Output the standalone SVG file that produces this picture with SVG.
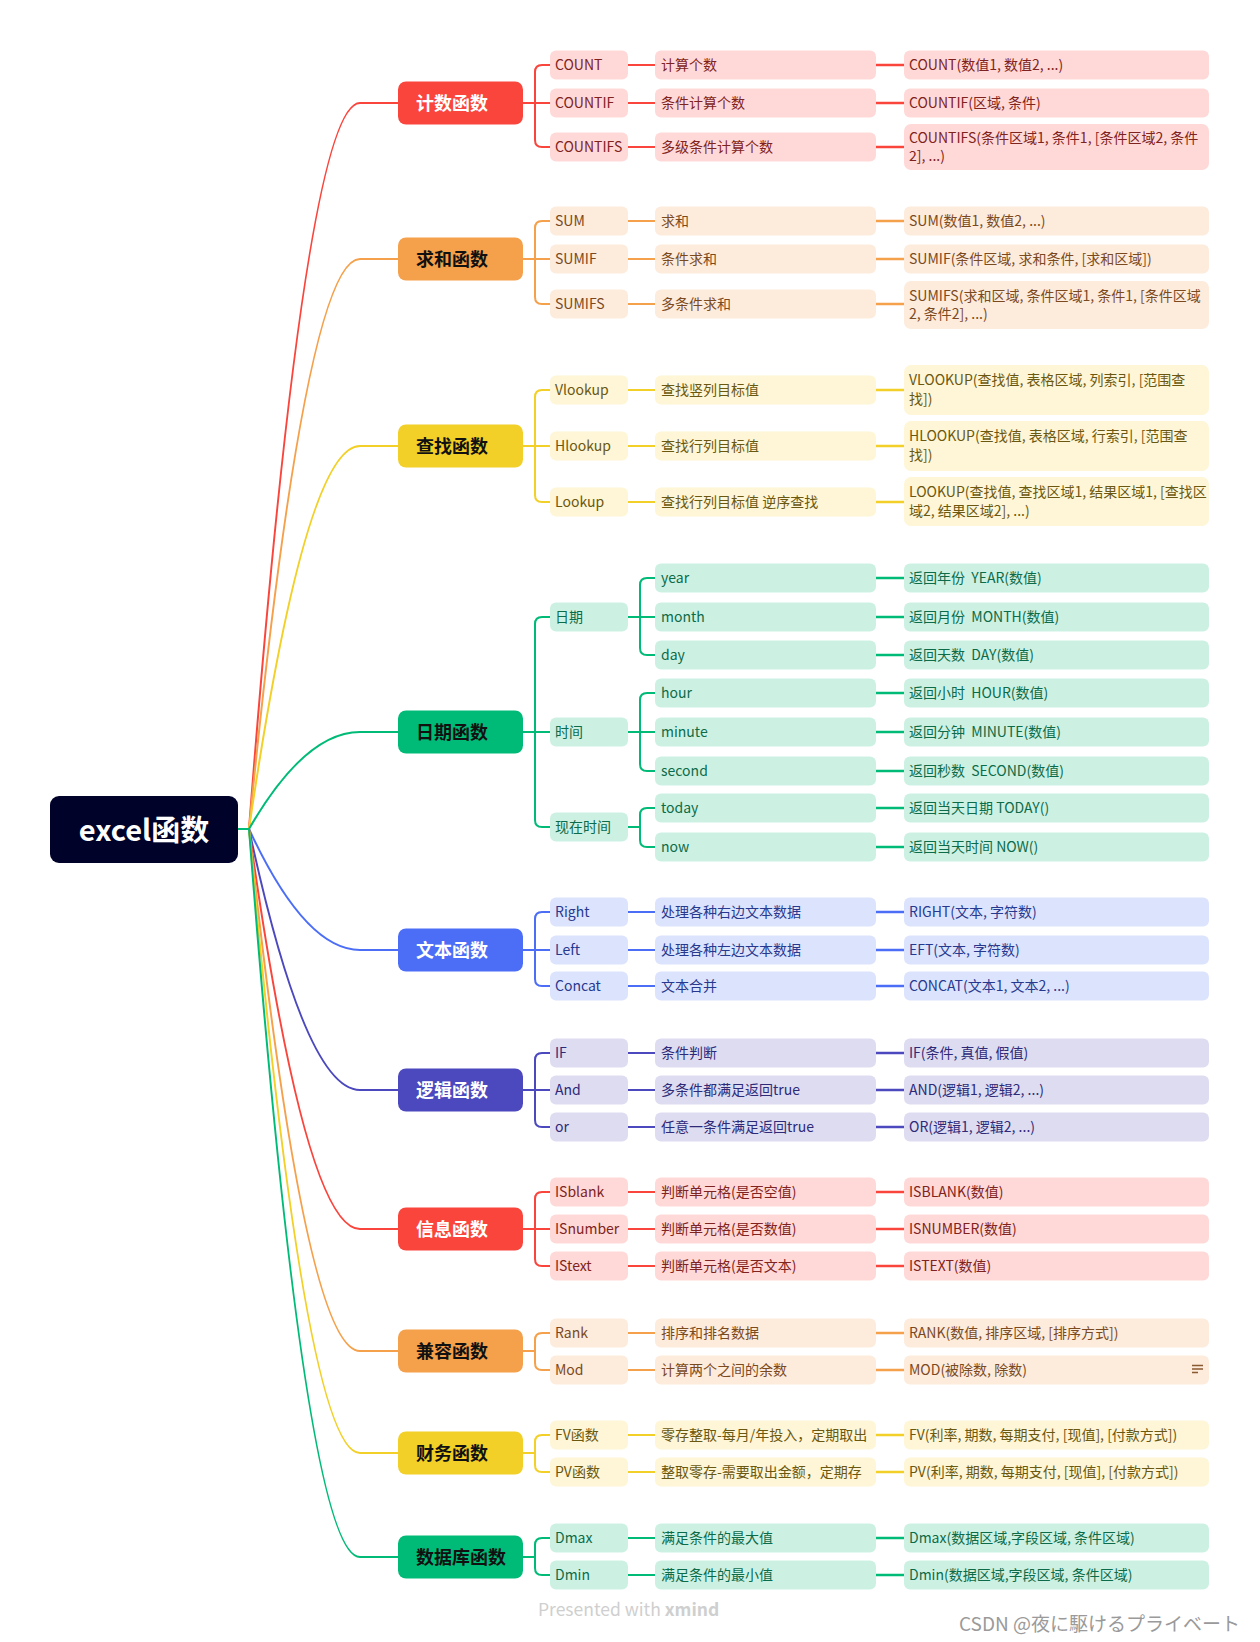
<svg xmlns="http://www.w3.org/2000/svg" width="1260" height="1642" viewBox="0 0 1260 1642">
<style>
text{font-family:"Noto Sans CJK SC","Noto Sans",sans-serif}
.t{font-size:14px}
.bt{font-size:18px;font-weight:700}
.conn path{fill:none;stroke-width:2}
.conn .lk{stroke-width:2.6}
.sr{stroke:#F9453C}.so{stroke:#F5A04B}.sy{stroke:#F2D027}.sg{stroke:#00BB77}.sb{stroke:#4C6EF6}.sp{stroke:#4C48BE}
.mr{fill:#F9453C}.mo{fill:#F5A04B}.my{fill:#F2D027}.mg{fill:#00BB77}.mb{fill:#4C6EF6}.mp{fill:#4C48BE}
.lr{fill:#FFD9D8}.lo{fill:#FDEBDC}.ly{fill:#FEF6D6}.lg{fill:#CCF1E3}.lb{fill:#DCE3FD}.lp{fill:#DDDCF1}
.tr{fill:#7E2320}.to{fill:#7A4A1E}.ty{fill:#6B5810}.tg{fill:#0C6B48}.tb{fill:#27398F}.tp{fill:#2E2A78}
.w{fill:#FFFFFF}.k{fill:#111111}
</style>

<g id="connectors" class="conn">
  <path class="sr" d="M249 829 Q305 103 360 103 H398"/>
  <path class="so" d="M249 829 Q305 259 360 259 H398"/>
  <path class="sy" d="M249 829 Q305 446 360 446 H398"/>
  <path class="sg" d="M249 829 Q305 732 360 732 H398"/>
  <path class="sb" d="M249 829 Q305 950 360 950 H398"/>
  <path class="sp" d="M249 829 Q305 1090 360 1090 H398"/>
  <path class="sr" d="M249 829 Q305 1229 360 1229 H398"/>
  <path class="so" d="M249 829 Q305 1351 360 1351 H398"/>
  <path class="sy" d="M249 829 Q305 1453 360 1453 H398"/>
  <path class="sg" d="M249 829 Q305 1557 360 1557 H398"/>
  <path class="sg" d="M237 829 H250"/>

  <path class="sr" d="M523 103 H535 V72 Q535 65 542 65 H550"/>
  <path class="sr" d="M523 103 H550"/>
  <path class="sr" d="M523 103 H535 V140 Q535 147 542 147 H550"/>
  <path class="sr" d="M628 65 H655 M628 103 H655 M628 147 H655"/>
  <path class="sr lk" d="M876 65 H904 M876 103 H904 M876 147 H904"/>

  <path class="so" d="M523 259 H535 V228 Q535 221 542 221 H550"/>
  <path class="so" d="M523 259 H550"/>
  <path class="so" d="M523 259 H535 V297 Q535 304 542 304 H550"/>
  <path class="so" d="M628 221 H655 M628 259 H655 M628 304 H655"/>
  <path class="so lk" d="M876 221 H904 M876 259 H904 M876 304 H904"/>

  <path class="sy" d="M523 446 H535 V397 Q535 390 542 390 H550"/>
  <path class="sy" d="M523 446 H550"/>
  <path class="sy" d="M523 446 H535 V495 Q535 502 542 502 H550"/>
  <path class="sy" d="M628 390 H655 M628 446 H655 M628 502 H655"/>
  <path class="sy lk" d="M876 390 H904 M876 446 H904 M876 502 H904"/>

  <path class="sg" d="M523 732 H535 V624 Q535 617 542 617 H550"/>
  <path class="sg" d="M523 732 H550"/>
  <path class="sg" d="M523 732 H535 V820 Q535 827 542 827 H550"/>
  <path class="sg" d="M628 617 H640 V585 Q640 578 647 578 H655"/>
  <path class="sg" d="M628 617 H655"/>
  <path class="sg" d="M628 617 H640 V648 Q640 655 647 655 H655"/>
  <path class="sg" d="M628 732 H640 V700 Q640 693 647 693 H655"/>
  <path class="sg" d="M628 732 H655"/>
  <path class="sg" d="M628 732 H640 V764 Q640 771 647 771 H655"/>
  <path class="sg" d="M628 827 H640 V815 Q640 808 647 808 H655"/>
  <path class="sg" d="M628 827 H640 V840 Q640 847 647 847 H655"/>
  <path class="sg lk" d="M876 578 H904 M876 617 H904 M876 655 H904 M876 693 H904 M876 732 H904 M876 771 H904 M876 808 H904 M876 847 H904"/>

  <path class="sb" d="M523 950 H535 V919 Q535 912 542 912 H550"/>
  <path class="sb" d="M523 950 H550"/>
  <path class="sb" d="M523 950 H535 V979 Q535 986 542 986 H550"/>
  <path class="sb" d="M628 912 H655 M628 950 H655 M628 986 H655"/>
  <path class="sb lk" d="M876 912 H904 M876 950 H904 M876 986 H904"/>

  <path class="sp" d="M523 1090 H535 V1060 Q535 1053 542 1053 H550"/>
  <path class="sp" d="M523 1090 H550"/>
  <path class="sp" d="M523 1090 H535 V1120 Q535 1127 542 1127 H550"/>
  <path class="sp" d="M628 1053 H655 M628 1090 H655 M628 1127 H655"/>
  <path class="sp lk" d="M876 1053 H904 M876 1090 H904 M876 1127 H904"/>

  <path class="sr" d="M523 1229 H535 V1199 Q535 1192 542 1192 H550"/>
  <path class="sr" d="M523 1229 H550"/>
  <path class="sr" d="M523 1229 H535 V1259 Q535 1266 542 1266 H550"/>
  <path class="sr" d="M628 1192 H655 M628 1229 H655 M628 1266 H655"/>
  <path class="sr lk" d="M876 1192 H904 M876 1229 H904 M876 1266 H904"/>

  <path class="so" d="M523 1351 H535 V1340 Q535 1333 542 1333 H550"/>
  <path class="so" d="M523 1351 H535 V1363 Q535 1370 542 1370 H550"/>
  <path class="so" d="M628 1333 H655 M628 1370 H655"/>
  <path class="so lk" d="M876 1333 H904 M876 1370 H904"/>

  <path class="sy" d="M523 1453 H535 V1442 Q535 1435 542 1435 H550"/>
  <path class="sy" d="M523 1453 H535 V1465 Q535 1472 542 1472 H550"/>
  <path class="sy" d="M628 1435 H655 M628 1472 H655"/>
  <path class="sy lk" d="M876 1435 H904 M876 1472 H904"/>

  <path class="sg" d="M523 1557 H535 V1545 Q535 1538 542 1538 H550"/>
  <path class="sg" d="M523 1557 H535 V1568 Q535 1575 542 1575 H550"/>
  <path class="sg" d="M628 1538 H655 M628 1575 H655"/>
  <path class="sg lk" d="M876 1538 H904 M876 1575 H904"/>
</g>

<g id="root">
  <rect x="50" y="796" width="188" height="67" rx="9" fill="#000229"/>
  <text x="144" y="841" text-anchor="middle" font-size="29" font-weight="700" fill="#FFFFFF">excel函数</text>
</g>

<g id="b1"><rect class="mr" x="398" y="81.5" width="125" height="43" rx="8"/><text class="bt w" x="416" y="109.5">计数函数</text></g>
<g id="b1-1">
  <rect class="lr" x="550" y="50.5" width="78" height="29" rx="6"/><text class="t tr" x="555" y="70">COUNT</text>
  <rect class="lr" x="655" y="50.5" width="221" height="29" rx="6"/><text class="t tr" x="661" y="70">计算个数</text>
  <rect class="lr" x="904" y="50.5" width="305" height="29" rx="6"/><text class="t tr" x="909" y="70">COUNT(数值1, 数值2, ...)</text>
</g>
<g id="b1-2">
  <rect class="lr" x="550" y="88.5" width="78" height="29" rx="6"/><text class="t tr" x="555" y="108">COUNTIF</text>
  <rect class="lr" x="655" y="88.5" width="221" height="29" rx="6"/><text class="t tr" x="661" y="108">条件计算个数</text>
  <rect class="lr" x="904" y="88.5" width="305" height="29" rx="6"/><text class="t tr" x="909" y="108">COUNTIF(区域, 条件)</text>
</g>
<g id="b1-3">
  <rect class="lr" x="550" y="132.5" width="78" height="29" rx="6"/><text class="t tr" x="555" y="152">COUNTIFS</text>
  <rect class="lr" x="655" y="132.5" width="221" height="29" rx="6"/><text class="t tr" x="661" y="152">多级条件计算个数</text>
  <rect class="lr" x="904" y="124" width="305" height="46" rx="7"/><text class="t tr" x="909" y="143">COUNTIFS(条件区域1, 条件1, [条件区域2, 条件</text><text class="t tr" x="909" y="161">2], ...)</text>
</g>

<g id="b2"><rect class="mo" x="398" y="237.5" width="125" height="43" rx="8"/><text class="bt k" x="416" y="265.5">求和函数</text></g>
<g id="b2-1">
  <rect class="lo" x="550" y="206.5" width="78" height="29" rx="6"/><text class="t to" x="555" y="226">SUM</text>
  <rect class="lo" x="655" y="206.5" width="221" height="29" rx="6"/><text class="t to" x="661" y="226">求和</text>
  <rect class="lo" x="904" y="206.5" width="305" height="29" rx="6"/><text class="t to" x="909" y="226">SUM(数值1, 数值2, ...)</text>
</g>
<g id="b2-2">
  <rect class="lo" x="550" y="244.5" width="78" height="29" rx="6"/><text class="t to" x="555" y="264">SUMIF</text>
  <rect class="lo" x="655" y="244.5" width="221" height="29" rx="6"/><text class="t to" x="661" y="264">条件求和</text>
  <rect class="lo" x="904" y="244.5" width="305" height="29" rx="6"/><text class="t to" x="909" y="264">SUMIF(条件区域, 求和条件, [求和区域])</text>
</g>
<g id="b2-3">
  <rect class="lo" x="550" y="289.5" width="78" height="29" rx="6"/><text class="t to" x="555" y="309">SUMIFS</text>
  <rect class="lo" x="655" y="289.5" width="221" height="29" rx="6"/><text class="t to" x="661" y="309">多条件求和</text>
  <rect class="lo" x="904" y="281" width="305" height="48" rx="7"/><text class="t to" x="909" y="301">SUMIFS(求和区域, 条件区域1, 条件1, [条件区域</text><text class="t to" x="909" y="319">2, 条件2], ...)</text>
</g>

<g id="b3"><rect class="my" x="398" y="424.5" width="125" height="43" rx="8"/><text class="bt k" x="416" y="452.5">查找函数</text></g>
<g id="b3-1">
  <rect class="ly" x="550" y="375.5" width="78" height="29" rx="6"/><text class="t ty" x="555" y="395">Vlookup</text>
  <rect class="ly" x="655" y="375.5" width="221" height="29" rx="6"/><text class="t ty" x="661" y="395">查找竖列目标值</text>
  <rect class="ly" x="904" y="365" width="305" height="50" rx="7"/><text class="t ty" x="909" y="385">VLOOKUP(查找值, 表格区域, 列索引, [范围查</text><text class="t ty" x="909" y="404">找])</text>
</g>
<g id="b3-2">
  <rect class="ly" x="550" y="431.5" width="78" height="29" rx="6"/><text class="t ty" x="555" y="451">Hlookup</text>
  <rect class="ly" x="655" y="431.5" width="221" height="29" rx="6"/><text class="t ty" x="661" y="451">查找行列目标值</text>
  <rect class="ly" x="904" y="421" width="305" height="50" rx="7"/><text class="t ty" x="909" y="441">HLOOKUP(查找值, 表格区域, 行索引, [范围查</text><text class="t ty" x="909" y="460">找])</text>
</g>
<g id="b3-3">
  <rect class="ly" x="550" y="487.5" width="78" height="29" rx="6"/><text class="t ty" x="555" y="507">Lookup</text>
  <rect class="ly" x="655" y="487.5" width="221" height="29" rx="6"/><text class="t ty" x="661" y="507">查找行列目标值 逆序查找</text>
  <rect class="ly" x="904" y="477" width="305" height="49" rx="7"/><text class="t ty" x="909" y="497">LOOKUP(查找值, 查找区域1, 结果区域1, [查找区</text><text class="t ty" x="909" y="516">域2, 结果区域2], ...)</text>
</g>

<g id="b4"><rect class="mg" x="398" y="710.5" width="125" height="43" rx="8"/><text class="bt k" x="416" y="738.5">日期函数</text></g>
<g id="b4-1">
  <rect class="lg" x="550" y="602.5" width="78" height="29" rx="6"/><text class="t tg" x="555" y="622">日期</text>
  <rect class="lg" x="655" y="563.5" width="221" height="29" rx="6"/><text class="t tg" x="661" y="583">year</text>
  <rect class="lg" x="904" y="563.5" width="305" height="29" rx="6"/><text class="t tg" x="909" y="583" xml:space="preserve">返回年份  YEAR(数值)</text>
  <rect class="lg" x="655" y="602.5" width="221" height="29" rx="6"/><text class="t tg" x="661" y="622">month</text>
  <rect class="lg" x="904" y="602.5" width="305" height="29" rx="6"/><text class="t tg" x="909" y="622" xml:space="preserve">返回月份  MONTH(数值)</text>
  <rect class="lg" x="655" y="640.5" width="221" height="29" rx="6"/><text class="t tg" x="661" y="660">day</text>
  <rect class="lg" x="904" y="640.5" width="305" height="29" rx="6"/><text class="t tg" x="909" y="660" xml:space="preserve">返回天数  DAY(数值)</text>
</g>
<g id="b4-2">
  <rect class="lg" x="550" y="717.5" width="78" height="29" rx="6"/><text class="t tg" x="555" y="737">时间</text>
  <rect class="lg" x="655" y="678.5" width="221" height="29" rx="6"/><text class="t tg" x="661" y="698">hour</text>
  <rect class="lg" x="904" y="678.5" width="305" height="29" rx="6"/><text class="t tg" x="909" y="698" xml:space="preserve">返回小时  HOUR(数值)</text>
  <rect class="lg" x="655" y="717.5" width="221" height="29" rx="6"/><text class="t tg" x="661" y="737">minute</text>
  <rect class="lg" x="904" y="717.5" width="305" height="29" rx="6"/><text class="t tg" x="909" y="737" xml:space="preserve">返回分钟  MINUTE(数值)</text>
  <rect class="lg" x="655" y="756.5" width="221" height="29" rx="6"/><text class="t tg" x="661" y="776">second</text>
  <rect class="lg" x="904" y="756.5" width="305" height="29" rx="6"/><text class="t tg" x="909" y="776" xml:space="preserve">返回秒数  SECOND(数值)</text>
</g>
<g id="b4-3">
  <rect class="lg" x="550" y="812.5" width="78" height="29" rx="6"/><text class="t tg" x="555" y="832">现在时间</text>
  <rect class="lg" x="655" y="793.5" width="221" height="29" rx="6"/><text class="t tg" x="661" y="813">today</text>
  <rect class="lg" x="904" y="793.5" width="305" height="29" rx="6"/><text class="t tg" x="909" y="813">返回当天日期 TODAY()</text>
  <rect class="lg" x="655" y="832.5" width="221" height="29" rx="6"/><text class="t tg" x="661" y="852">now</text>
  <rect class="lg" x="904" y="832.5" width="305" height="29" rx="6"/><text class="t tg" x="909" y="852">返回当天时间 NOW()</text>
</g>

<g id="b5"><rect class="mb" x="398" y="928.5" width="125" height="43" rx="8"/><text class="bt w" x="416" y="956.5">文本函数</text></g>
<g id="b5-1">
  <rect class="lb" x="550" y="897.5" width="78" height="29" rx="6"/><text class="t tb" x="555" y="917">Right</text>
  <rect class="lb" x="655" y="897.5" width="221" height="29" rx="6"/><text class="t tb" x="661" y="917">处理各种右边文本数据</text>
  <rect class="lb" x="904" y="897.5" width="305" height="29" rx="6"/><text class="t tb" x="909" y="917">RIGHT(文本, 字符数)</text>
</g>
<g id="b5-2">
  <rect class="lb" x="550" y="935.5" width="78" height="29" rx="6"/><text class="t tb" x="555" y="955">Left</text>
  <rect class="lb" x="655" y="935.5" width="221" height="29" rx="6"/><text class="t tb" x="661" y="955">处理各种左边文本数据</text>
  <rect class="lb" x="904" y="935.5" width="305" height="29" rx="6"/><text class="t tb" x="909" y="955">EFT(文本, 字符数)</text>
</g>
<g id="b5-3">
  <rect class="lb" x="550" y="971.5" width="78" height="29" rx="6"/><text class="t tb" x="555" y="991">Concat</text>
  <rect class="lb" x="655" y="971.5" width="221" height="29" rx="6"/><text class="t tb" x="661" y="991">文本合并</text>
  <rect class="lb" x="904" y="971.5" width="305" height="29" rx="6"/><text class="t tb" x="909" y="991">CONCAT(文本1, 文本2, ...)</text>
</g>

<g id="b6"><rect class="mp" x="398" y="1068.5" width="125" height="43" rx="8"/><text class="bt w" x="416" y="1096.5">逻辑函数</text></g>
<g id="b6-1">
  <rect class="lp" x="550" y="1038.5" width="78" height="29" rx="6"/><text class="t tp" x="555" y="1058">IF</text>
  <rect class="lp" x="655" y="1038.5" width="221" height="29" rx="6"/><text class="t tp" x="661" y="1058">条件判断</text>
  <rect class="lp" x="904" y="1038.5" width="305" height="29" rx="6"/><text class="t tp" x="909" y="1058">IF(条件, 真值, 假值)</text>
</g>
<g id="b6-2">
  <rect class="lp" x="550" y="1075.5" width="78" height="29" rx="6"/><text class="t tp" x="555" y="1095">And</text>
  <rect class="lp" x="655" y="1075.5" width="221" height="29" rx="6"/><text class="t tp" x="661" y="1095">多条件都满足返回true</text>
  <rect class="lp" x="904" y="1075.5" width="305" height="29" rx="6"/><text class="t tp" x="909" y="1095">AND(逻辑1, 逻辑2, ...)</text>
</g>
<g id="b6-3">
  <rect class="lp" x="550" y="1112.5" width="78" height="29" rx="6"/><text class="t tp" x="555" y="1132">or</text>
  <rect class="lp" x="655" y="1112.5" width="221" height="29" rx="6"/><text class="t tp" x="661" y="1132">任意一条件满足返回true</text>
  <rect class="lp" x="904" y="1112.5" width="305" height="29" rx="6"/><text class="t tp" x="909" y="1132">OR(逻辑1, 逻辑2, ...)</text>
</g>

<g id="b7"><rect class="mr" x="398" y="1207.5" width="125" height="43" rx="8"/><text class="bt w" x="416" y="1235.5">信息函数</text></g>
<g id="b7-1">
  <rect class="lr" x="550" y="1177.5" width="78" height="29" rx="6"/><text class="t tr" x="555" y="1197">ISblank</text>
  <rect class="lr" x="655" y="1177.5" width="221" height="29" rx="6"/><text class="t tr" x="661" y="1197">判断单元格(是否空值)</text>
  <rect class="lr" x="904" y="1177.5" width="305" height="29" rx="6"/><text class="t tr" x="909" y="1197">ISBLANK(数值)</text>
</g>
<g id="b7-2">
  <rect class="lr" x="550" y="1214.5" width="78" height="29" rx="6"/><text class="t tr" x="555" y="1234">ISnumber</text>
  <rect class="lr" x="655" y="1214.5" width="221" height="29" rx="6"/><text class="t tr" x="661" y="1234">判断单元格(是否数值)</text>
  <rect class="lr" x="904" y="1214.5" width="305" height="29" rx="6"/><text class="t tr" x="909" y="1234">ISNUMBER(数值)</text>
</g>
<g id="b7-3">
  <rect class="lr" x="550" y="1251.5" width="78" height="29" rx="6"/><text class="t tr" x="555" y="1271">IStext</text>
  <rect class="lr" x="655" y="1251.5" width="221" height="29" rx="6"/><text class="t tr" x="661" y="1271">判断单元格(是否文本)</text>
  <rect class="lr" x="904" y="1251.5" width="305" height="29" rx="6"/><text class="t tr" x="909" y="1271">ISTEXT(数值)</text>
</g>

<g id="b8"><rect class="mo" x="398" y="1329.5" width="125" height="43" rx="8"/><text class="bt k" x="416" y="1357.5">兼容函数</text></g>
<g id="b8-1">
  <rect class="lo" x="550" y="1318.5" width="78" height="29" rx="6"/><text class="t to" x="555" y="1338">Rank</text>
  <rect class="lo" x="655" y="1318.5" width="221" height="29" rx="6"/><text class="t to" x="661" y="1338">排序和排名数据</text>
  <rect class="lo" x="904" y="1318.5" width="305" height="29" rx="6"/><text class="t to" x="909" y="1338">RANK(数值, 排序区域, [排序方式])</text>
</g>
<g id="b8-2">
  <rect class="lo" x="550" y="1355.5" width="78" height="29" rx="6"/><text class="t to" x="555" y="1375">Mod</text>
  <rect class="lo" x="655" y="1355.5" width="221" height="29" rx="6"/><text class="t to" x="661" y="1375">计算两个之间的余数</text>
  <rect class="lo" x="904" y="1355.5" width="305" height="29" rx="6"/><text class="t to" x="909" y="1375">MOD(被除数, 除数)</text>
  <path d="M1192 1365.5 H1203 M1192 1369 H1203 M1192 1372.5 H1198" stroke="#8A5A30" stroke-width="1.3" fill="none"/>
</g>

<g id="b9"><rect class="my" x="398" y="1431.5" width="125" height="43" rx="8"/><text class="bt k" x="416" y="1459.5">财务函数</text></g>
<g id="b9-1">
  <rect class="ly" x="550" y="1420.5" width="78" height="29" rx="6"/><text class="t ty" x="555" y="1440">FV函数</text>
  <rect class="ly" x="655" y="1420.5" width="221" height="29" rx="6"/><text class="t ty" x="661" y="1440">零存整取-每月/年投入，定期取出</text>
  <rect class="ly" x="904" y="1420.5" width="305" height="29" rx="6"/><text class="t ty" x="909" y="1440">FV(利率, 期数, 每期支付, [现值], [付款方式])</text>
</g>
<g id="b9-2">
  <rect class="ly" x="550" y="1457.5" width="78" height="29" rx="6"/><text class="t ty" x="555" y="1477">PV函数</text>
  <rect class="ly" x="655" y="1457.5" width="221" height="29" rx="6"/><text class="t ty" x="661" y="1477">整取零存-需要取出金额，定期存</text>
  <rect class="ly" x="904" y="1457.5" width="305" height="29" rx="6"/><text class="t ty" x="909" y="1477">PV(利率, 期数, 每期支付, [现值], [付款方式])</text>
</g>

<g id="b10"><rect class="mg" x="398" y="1535.5" width="125" height="43" rx="8"/><text class="bt k" x="416" y="1563.5">数据库函数</text></g>
<g id="b10-1">
  <rect class="lg" x="550" y="1523.5" width="78" height="29" rx="6"/><text class="t tg" x="555" y="1543">Dmax</text>
  <rect class="lg" x="655" y="1523.5" width="221" height="29" rx="6"/><text class="t tg" x="661" y="1543">满足条件的最大值</text>
  <rect class="lg" x="904" y="1523.5" width="305" height="29" rx="6"/><text class="t tg" x="909" y="1543">Dmax(数据区域,字段区域, 条件区域)</text>
</g>
<g id="b10-2">
  <rect class="lg" x="550" y="1560.5" width="78" height="29" rx="6"/><text class="t tg" x="555" y="1580">Dmin</text>
  <rect class="lg" x="655" y="1560.5" width="221" height="29" rx="6"/><text class="t tg" x="661" y="1580">满足条件的最小值</text>
  <rect class="lg" x="904" y="1560.5" width="305" height="29" rx="6"/><text class="t tg" x="909" y="1580">Dmin(数据区域,字段区域, 条件区域)</text>
</g>

<g id="footer">
  <text x="538" y="1616" font-size="17.5" fill="#CFCFCF">Presented with <tspan font-weight="700">xmind</tspan></text>
  <text x="959" y="1631" font-size="19" fill="#9A9A9A" style="font-family:'Noto Sans CJK JP','Noto Sans',sans-serif">CSDN @夜に駆けるプライベート</text>
</g>
</svg>
